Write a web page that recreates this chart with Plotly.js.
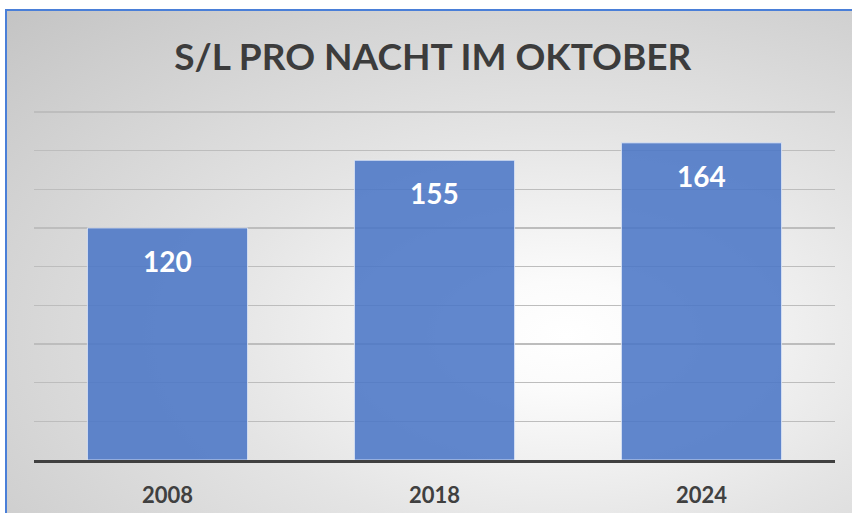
<!DOCTYPE html>
<html>
<head>
<meta charset="utf-8">
<script src="https://cdn.plot.ly/plotly-3.0.1.min.js"></script>
<style>
  html, body { margin: 0; padding: 0; background: #ffffff; overflow: hidden; }
  #bg {
    position: absolute; left: 5px; top: 9px; width: 900px; height: 560px;
    border-left: 2px solid #4a7fd8; border-top: 2px solid #4a7fd8;
    background: radial-gradient(ellipse farthest-corner at 62% 58%, #ffffff 0%, #fbfbfb 12%, #e4e4e4 45%, #c4c4c4 100%);
  }
  #chart { position: absolute; left: 0; top: 0; width: 852px; height: 513px; }
</style>
</head>
<body>
<div id="bg"></div>
<div id="chart"></div>
<script>
const categories = ["2008", "2018", "2024"];
const values = [120, 155, 164];
const chartTitle = "S/L PRO NACHT IM OKTOBER";

const FONT = "Lato, 'Open Sans', sans-serif";

const trace = {
  type: "bar",
  x: categories,
  y: values,
  width: 0.6,
  marker: { color: "rgba(75,118,198,0.88)", line: { color: "rgba(230,236,250,0.8)", width: 1 } },
  hoverinfo: "skip"
};

const annotations = categories.map((c, i) => ({
  x: i, y: values[i], xref: "x", yref: "y",
  text: "<b>" + values[i] + "</b>",
  showarrow: false, yanchor: "top", yshift: -14,
  font: { family: FONT, size: 28, color: "#ffffff" }
}));

const layout = {
  width: 852, height: 513,
  paper_bgcolor: "rgba(0,0,0,0)",
  plot_bgcolor: "rgba(0,0,0,0)",
  margin: { l: 34, r: 17, t: 110, b: 53, pad: 0 },
  showlegend: false,
  title: {
    text: "<b>" + chartTitle + "</b>",
    font: { family: FONT, size: 37, color: "#3c3c3c" },
    x: 0.508, xanchor: "center", y: 1 - 57 / 513, yanchor: "middle", yref: "container"
  },
  xaxis: {
    type: "category",
    range: [-0.5, categories.length - 0.5],
    showline: true, linecolor: "#404040", linewidth: 3,
    ticks: "", showgrid: false,
    tickfont: { family: FONT, size: 22, color: "#404040", weight: "bold" },
    ticklabelstandoff: 14, fixedrange: true
  },
  yaxis: {
    range: [0, 181], tick0: 0, dtick: 20,
    showticklabels: false, ticks: "",
    showgrid: true, gridcolor: "#bdbdbd", gridwidth: 1.5,
    zeroline: false, showline: false, fixedrange: true
  },
  annotations: annotations
};

Plotly.newPlot("chart", [trace], layout, { displayModeBar: false, staticPlot: true });
</script>
</body>
</html>
